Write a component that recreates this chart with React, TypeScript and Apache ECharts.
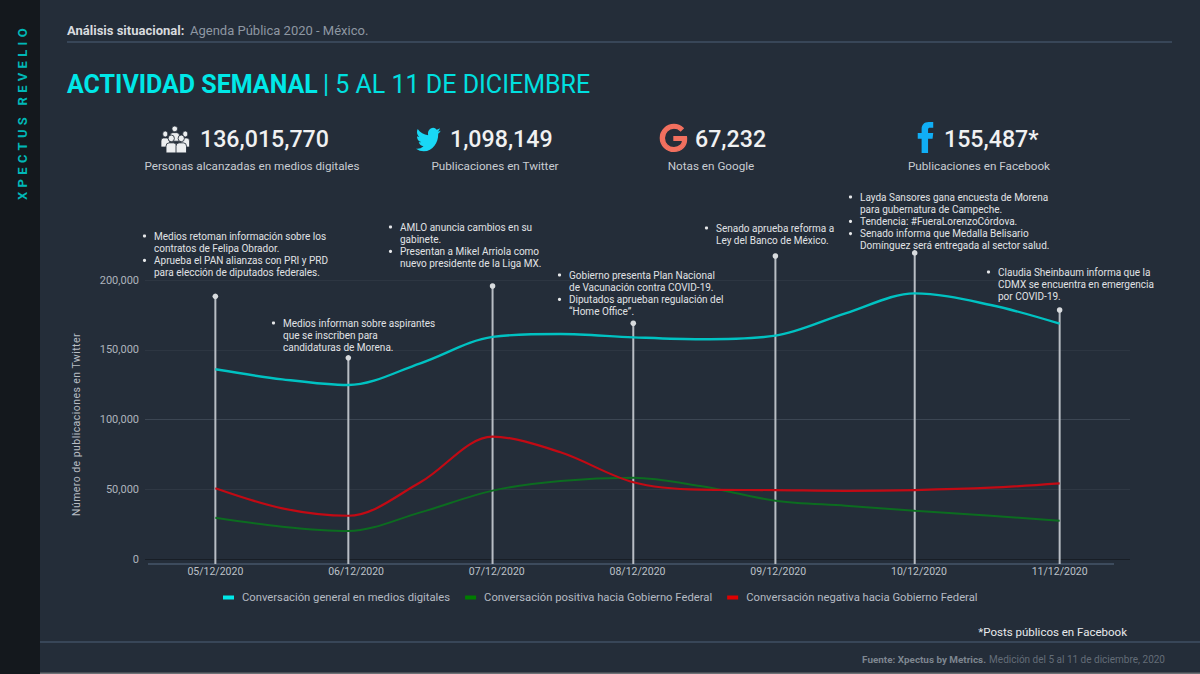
import React, { useEffect, useRef } from "react";
import * as echarts from "echarts";

const categories = ["05/12/2020", "06/12/2020", "07/12/2020", "08/12/2020", "09/12/2020", "10/12/2020", "11/12/2020"];
// Positions (in days, on the 0..6 scale of the category labels) where the curves were read
const curveDays = [0, 0.476, 0.945, 1.457, 1.97, 2.453, 2.97, 3.446, 3.98, 4.478, 4.97, 5.51, 6];
const generalValues = [136000, 128800, 124700, 140300, 159200, 161300, 158900, 157500, 160100, 176100, 190400, 182100, 168700];
const positiveValues = [29600, 23200, 20100, 33400, 49000, 55900, 58300, 52300, 41800, 38200, 34600, 31000, 27500];
const negativeValues = [50700, 36300, 31000, 55000, 87700, 76500, 55000, 49700, 49400, 48900, 49400, 51100, 54200];
// Hand-placed marker lines
const pinDays = [0, 0.945, 1.97, 2.97, 3.98, 4.97, 6];
const pinTops = [188300, 144200, 195700, 169000, 217200, 219400, 178500];
const seriesNames = [
  "Conversación general en medios digitales",
  "Conversación positiva hacia Gobierno Federal",
  "Conversación negativa hacia Gobierno Federal",
];
const notes = [
  ["Medios retoman información sobre los", "contratos de Felipa Obrador.", "*Aprueba el PAN alianzas con PRI y PRD", "para elección de diputados federales."],
  ["Medios informan sobre aspirantes", "que se inscriben para", "candidaturas de Morena."],
  ["AMLO anuncia cambios en su", "gabinete.", "*Presentan a Mikel Arriola como", "nuevo presidente de la Liga MX."],
  ["Gobierno presenta Plan Nacional", "de Vacunación contra COVID-19.", "*Diputados aprueban regulación del", "“Home Office”."],
  ["Senado aprueba reforma a", "Ley del Banco de México."],
  ["Layda Sansores gana encuesta de Morena", "para gubernatura de Campeche.", "*Tendencia: #FueraLorenzoCórdova.", "*Senado informa que Medalla Belisario", "Domínguez será entregada al sector salud."],
  ["Claudia Sheinbaum informa que la", "CDMX se encuentra en emergencia", "por COVID-19."],
];
const noteOrigins = [[154, 236], [283, 323], [400, 227], [569, 275], [716, 228], [860, 197], [998, 272]];
const stats = [
  { value: "136,015,770", label: "Personas alcanzadas en medios digitales" },
  { value: "1,098,149", label: "Publicaciones en Twitter" },
  { value: "67,232", label: "Notas en Google" },
  { value: "155,487*", label: "Publicaciones en Facebook" },
];
const statValueX = [200, 450, 695, 944];
const statLabelX = [252, 495, 711, 979];

const BG = "#242d39";
const FONT = "Roboto";

const twitter = "M23.953 4.57a10 10 0 0 1-2.825.775 4.958 4.958 0 0 0 2.163-2.723c-.951.555-2.005.959-3.127 1.184a4.92 4.92 0 0 0-8.384 4.482C7.69 8.095 4.067 6.13 1.64 3.162a4.822 4.822 0 0 0-.666 2.475c0 1.71.87 3.213 2.188 4.096a4.904 4.904 0 0 1-2.228-.616v.06a4.923 4.923 0 0 0 3.946 4.827 4.996 4.996 0 0 1-2.212.085 4.936 4.936 0 0 0 4.604 3.417 9.867 9.867 0 0 1-6.102 2.105c-.39 0-.779-.023-1.17-.067a13.995 13.995 0 0 0 7.557 2.209c9.053 0 13.998-7.496 13.998-13.985 0-.21 0-.42-.015-.63A9.935 9.935 0 0 0 24 4.59z";
const facebook = "M14 8.5V6c0-1 .5-1.5 1.6-1.5H18V0h-3.5C11 0 9 2.2 9 5.5v3H6V13h3v11h5V13h3.5l.5-4.5z";
const google = "M12.48 10.92v3.28h7.84c-.24 1.84-.853 3.187-1.787 4.133-1.147 1.147-2.933 2.4-6.053 2.4-4.827 0-8.6-3.893-8.6-8.72s3.773-8.72 8.6-8.72c2.6 0 4.507 1.027 5.907 2.347l2.307-2.307C18.747 1.44 16.133 0 12.48 0 5.867 0 .307 5.387.307 12s5.56 12 12.173 12c3.573 0 6.267-1.173 8.373-3.36 2.16-2.16 2.84-5.213 2.84-7.667 0-.76-.053-1.467-.173-2.053H12.48z";
const person = "M2 3a3 3 0 1 0 6 0a3 3 0 1 0 -6 0zM0 16V10Q0 7 3 7H7Q10 7 10 10V16Z";

echarts.graphic.registerShape("iconTwitter", echarts.graphic.extendPath(twitter, {}));
echarts.graphic.registerShape("iconFacebook", echarts.graphic.extendPath(facebook, {}));
echarts.graphic.registerShape("iconGoogle", echarts.graphic.extendPath(google, {}));
echarts.graphic.registerShape("iconPerson", echarts.graphic.extendPath(person, {}));

const txt = (text: string, x: number, y: number, fontSize: number, fill: string, extra: any = {}, el: any = {}) => ({
  type: "text",
  x,
  y,
  z: 100,
  silent: true,
  ...el,
  style: { text, fontSize, fill, fontFamily: FONT, align: "left", verticalAlign: "middle", ...extra },
});

function buildGraphics() {
  const g: any[] = [];
  g.push({ type: "rect", shape: { x: 0, y: 0, width: 40, height: 674 }, style: { fill: "#14181d" }, silent: true });
  g.push({ type: "rect", shape: { x: 40, y: 672.5, width: 1160, height: 1.5 }, style: { fill: "#6c7075" }, silent: true });
  g.push(txt("XPECTUS REVELIO", 22, 112, 13, "#00b8b8", { align: "center", fontWeight: 700 }, { rotation: Math.PI / 2 }));
  g.push({ type: "line", shape: { x1: 67, y1: 42, x2: 1172, y2: 42 }, style: { stroke: "#3f4f63", lineWidth: 1.5 }, silent: true });
  g.push({ type: "line", shape: { x1: 40, y1: 642, x2: 1200, y2: 642 }, style: { stroke: "#3f4f63", lineWidth: 1.5 }, silent: true });
  g.push({ type: "line", shape: { x1: 148, y1: 564, x2: 1114, y2: 564 }, style: { stroke: "#46566a", lineWidth: 1.5 }, silent: true });
  g.push(txt("Análisis situacional:", 67, 30, 13, "#d8dbdf", { fontWeight: 700 }));
  g.push(txt("Agenda Pública 2020 - México.", 190, 30, 13, "#8e97a2"));
  g.push(txt("ACTIVIDAD SEMANAL", 67, 84, 25, "#00e8e8", { fontWeight: 700 }));
  g.push(txt("| 5 AL 11 DE DICIEMBRE", 323, 84, 25, "#00e0e0"));
  g.push(txt("*Posts públicos en Facebook", 1127, 632, 11.5, "#e8eaec", { align: "right" }));
  g.push(txt("Fuente: Xpectus by Metrics.", 986, 659, 9.9, "#7e8690", { align: "right", fontWeight: 700 }));
  g.push(txt("Medición del 5 al 11 de diciembre, 2020", 1165, 659, 10, "#636c77", { align: "right" }));
  stats.forEach((s, i) => {
    g.push(txt(s.value, statValueX[i], 139, 23.2, "#f0f1f2", { fontWeight: 500 }));
    g.push(txt(s.label, statLabelX[i], 166, 11.7, "#c8ccd1", { align: "center" }));
  });
  const people = [[170, 126, 0.95, 0.95], [161, 131, 0.85, 1.0], [181, 131, 0.85, 1.0], [166, 135, 1.05, 1.12], [176, 135, 1.05, 1.12]];
  people.forEach(([x, y, sx, sy]) =>
    g.push({ type: "iconPerson", x, y, scaleX: sx, scaleY: sy, silent: true, style: { fill: "#eceef0", stroke: BG, lineWidth: 0.8 } })
  );
  g.push({ type: "iconTwitter", x: 416, y: 125.2, scaleX: 1.03, scaleY: 1.2, silent: true, style: { fill: "#19d8f5" } });
  g.push({ type: "iconGoogle", x: 660, y: 124.5, scaleX: 1.12, scaleY: 1.12, silent: true, style: { fill: "#f2705f", stroke: "#f2705f", lineWidth: 1.2 } });
  g.push({ type: "iconFacebook", x: 910, y: 122, scaleX: 1.29, scaleY: 1.29, silent: true, style: { fill: "#10aef5" } });
  notes.forEach((lines, n) => {
    const [x, y] = noteOrigins[n];
    lines.forEach((raw, i) => {
      const bullet = i === 0 || raw.startsWith("*");
      const t = raw.startsWith("*") ? raw.slice(1) : raw;
      const ly = y + i * 12.2;
      if (bullet) g.push({ type: "circle", z: 100, shape: { cx: x - 9.5, cy: ly, r: 1.6 }, style: { fill: "#e6e8ea" }, silent: true });
      g.push(txt(t, x, ly, 10, "#e0e2e5"));
    });
  });
  return g;
}

export default function App() {
  const ref = useRef<HTMLDivElement>(null);
  useEffect(() => {
    document.body.style.margin = "0";
    const chart = echarts.init(ref.current!, undefined, { renderer: "svg" });
    const pts = (vals: number[]) => vals.map((v, i) => [curveDays[i], v]);
    const lineSeries = (name: string, vals: number[], line: string, legend: string, width: number) => ({
      name,
      type: "line",
      xAxisIndex: 1,
      yAxisIndex: 0,
      smooth: 0.33,
      showSymbol: false,
      symbol: "none",
      z: 5,
      data: pts(vals),
      lineStyle: { color: line, width },
      itemStyle: { color: legend },
    });
    const legendColors = ["#00e8e8", "#007d00", "#e00000"];
    chart.setOption({
      animation: false,
      backgroundColor: BG,
      textStyle: { fontFamily: FONT },
      grid: { left: 145, right: 70, top: 280, bottom: 115 },
      legend: {
        data: seriesNames.map((name, i) => ({ name, itemStyle: { color: legendColors[i] }, lineStyle: { opacity: 0 } })),
        left: 218,
        top: 587,
        icon: "rect",
        itemWidth: 11,
        itemHeight: 4,
        itemGap: 15,
        textStyle: { color: "#b4bac2", fontSize: 11.25, fontFamily: FONT, padding: [0, 0, 0, 3] },
      },
      xAxis: [
        {
          type: "category",
          data: categories,
          axisLine: { show: false },
          axisTick: { show: false },
          axisLabel: { color: "#bcc1c8", fontSize: 10.5, margin: 7, fontFamily: FONT },
        },
        { type: "value", min: -0.5, max: 6.5, show: false },
      ],
      yAxis: {
        type: "value",
        min: 0,
        max: 200000,
        interval: 50000,
        name: "Número de publicaciones en Twitter",
        nameLocation: "middle",
        nameGap: 63,
        nameTextStyle: { color: "#b8bdc4", fontSize: 10.5, fontFamily: FONT, padding: [0, 0, 0, -10] },
        axisLine: { show: false },
        axisTick: { show: false },
        axisLabel: {
          color: "#aeb4bc",
          fontSize: 11,
          margin: 6,
          fontFamily: FONT,
          formatter: (v: number) => v.toLocaleString("en-US"),
        },
        splitLine: { lineStyle: { color: ["#181e26", "#2f3844", "#3c4653", "#2d3642", "#2d3642"], width: 1 } },
      },
      graphic: buildGraphics(),
      series: [
        {
          type: "custom",
          name: "marcadores",
          xAxisIndex: 1,
          yAxisIndex: 0,
          z: 3,
          clip: false,
          data: pinTops.map((v, i) => [pinDays[i], v]),
          renderItem: (_p: any, api: any) => {
            const bottom = api.coord([api.value(0), 0]);
            const top = api.coord([api.value(0), api.value(1)]);
            return {
              type: "group",
              children: [
                { type: "line", shape: { x1: bottom[0], y1: bottom[1] + 5, x2: top[0], y2: top[1] }, style: { stroke: "#b8bdc4", lineWidth: 2 } },
                { type: "circle", shape: { cx: top[0], cy: top[1], r: 2.8 }, style: { fill: "#d8dbde" } },
              ],
            };
          },
        },
        lineSeries(seriesNames[0], generalValues, "#00c2c2", "#00e8e8", 2.4),
        lineSeries(seriesNames[1], positiveValues, "#0c6c20", "#007d00", 2),
        lineSeries(seriesNames[2], negativeValues, "#c20a14", "#e00000", 2.2),
      ],
    });
    ref.current!.querySelectorAll("text").forEach((t) => {
      if (t.textContent === "XPECTUS REVELIO") t.style.letterSpacing = "4.3px";
      if (t.textContent?.startsWith("Número de publicaciones")) t.style.letterSpacing = "0.45px";
    });
    return () => chart.dispose();
  }, []);
  return <div ref={ref} style={{ position: "absolute", left: 0, top: 0, width: 1200, height: 674 }} />;
}
